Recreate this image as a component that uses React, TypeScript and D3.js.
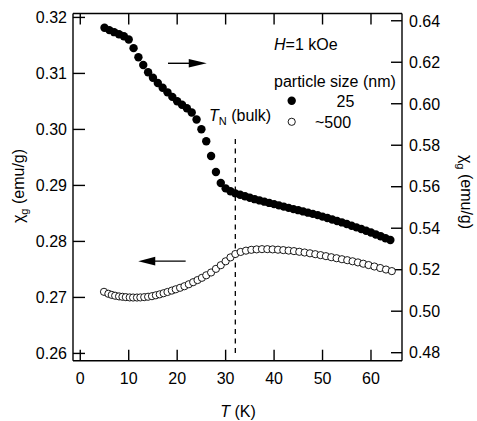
import React from "react";
import * as d3 from "d3";

// ---- Data ----
const T_FILLED = [5, 6, 7, 8, 9, 10, 11, 12, 13, 14, 15, 16, 17, 18, 19, 20, 21, 22, 23, 24, 25, 26, 27, 28, 29, 30, 31, 32, 33, 34, 35, 36, 37, 38, 39, 40, 41, 42, 43, 44, 45, 46, 47, 48, 49, 50, 51, 52, 53, 54, 55, 56, 57, 58, 59, 60, 61, 62, 63, 64];
const CHI_FILLED = [0.6366, 0.6355, 0.6345, 0.6335, 0.6325, 0.631, 0.6268, 0.6224, 0.6187, 0.6152, 0.6125, 0.61, 0.6077, 0.6055, 0.6033, 0.6012, 0.5995, 0.5978, 0.5958, 0.5924, 0.5877, 0.5819, 0.5748, 0.5671, 0.5618, 0.5592, 0.5578, 0.5568, 0.5561, 0.5554, 0.5547, 0.554, 0.5534, 0.5528, 0.5522, 0.5516, 0.551, 0.5504, 0.5498, 0.5492, 0.5487, 0.5481, 0.5475, 0.5469, 0.5463, 0.5456, 0.5449, 0.5442, 0.5435, 0.5428, 0.542, 0.5412, 0.5404, 0.5396, 0.5388, 0.5379, 0.537, 0.5361, 0.5352, 0.5343];

const T_OPEN = [4.9, 5.8, 6.5, 7.2, 8.0, 8.7, 9.4, 10.2, 10.9, 11.7, 12.4, 13.2, 14.0, 14.8, 15.6, 16.4, 17.2, 18.0, 18.9, 19.7, 20.6, 21.5, 22.4, 23.3, 24.2, 25.1, 26.0, 27.0, 28.0, 29.0, 30.0, 31.0, 32.0, 33.1, 34.2, 35.3, 36.4, 37.5, 38.6, 39.7, 40.8, 41.9, 43.0, 44.1, 45.2, 46.3, 47.4, 48.5, 49.6, 50.7, 51.8, 52.9, 54.0, 55.1, 56.2, 57.3, 58.4, 59.5, 60.7, 61.9, 63.1, 64.3];
const CHI_OPEN = [0.271, 0.27065, 0.27045, 0.2703, 0.27018, 0.27011, 0.27005, 0.27, 0.26998, 0.26998, 0.27, 0.27005, 0.27012, 0.27022, 0.27038, 0.27055, 0.27075, 0.27097, 0.27122, 0.27145, 0.27172, 0.272, 0.27235, 0.27272, 0.2731, 0.2735, 0.27395, 0.27445, 0.2751, 0.27575, 0.27645, 0.27715, 0.27775, 0.27812, 0.27835, 0.2785, 0.27858, 0.27862, 0.27862, 0.27858, 0.27852, 0.27845, 0.27836, 0.27827, 0.27815, 0.27802, 0.27788, 0.27772, 0.27755, 0.27737, 0.27718, 0.277, 0.27682, 0.27665, 0.27645, 0.27625, 0.27602, 0.27578, 0.27552, 0.27525, 0.27498, 0.2747];

const X_TICKS = [0, 10, 20, 30, 40, 50, 60];
const LEFT_TICKS = [0.26, 0.27, 0.28, 0.29, 0.3, 0.31, 0.32];
const RIGHT_TICKS = [0.48, 0.5, 0.52, 0.54, 0.56, 0.58, 0.6, 0.62, 0.64];
const T_NEEL = 32;

// ---- Layout ----
const W = 477, H = 421;
const L = 73, R = 402, TOP = 13.5, BOT = 360.7;
const FONT = "'Liberation Sans', Arial, Helvetica, sans-serif";
const FS = 16;
const TICK = 11;

export default function App() {
  const x = d3.scaleLinear().domain([-1.5, 66.4]).range([L, R]);
  const yL = d3.scaleLinear().domain([0.2587, 0.3207]).range([BOT, TOP]);
  const yR = d3.scaleLinear().domain([0.47614, 0.6435]).range([BOT, TOP]);
  const fmtL = d3.format(".2f");

  const rArrowY = yR(0.6195);
  const lArrowY = yL(0.27648);
  const rx0 = x(18.1), rx1 = x(26.1);
  const lx0 = x(11.97), lx1 = x(21.75);

  return (
    <svg width={W} height={H} style={{ position: "absolute", left: 0, top: 0, background: "#fff" }} fontFamily={FONT}>
      <rect x={0} y={0} width={W} height={H} fill="#fff" />
      {/* frame */}
      <g stroke="#000" strokeWidth={1.4} fill="none">
        <line x1={L} x2={R} y1={TOP} y2={TOP} />
        <line x1={L} x2={R} y1={BOT} y2={BOT} />
        <line x1={L} x2={L} y1={TOP} y2={BOT} />
        <line x1={R} x2={R} y1={TOP} y2={BOT} />
        {X_TICKS.map((t) => (
          <g key={"xt" + t}>
            <line x1={x(t)} x2={x(t)} y1={BOT} y2={BOT - TICK} />
            <line x1={x(t)} x2={x(t)} y1={TOP} y2={TOP + TICK} />
          </g>
        ))}
        {LEFT_TICKS.map((v) => (
          <line key={"lt" + v} x1={L} x2={L + 12} y1={yL(v)} y2={yL(v)} />
        ))}
        {RIGHT_TICKS.map((v) => (
          <line key={"rt" + v} x1={R} x2={R - TICK} y1={yR(v)} y2={yR(v)} />
        ))}
      </g>
      {/* tick labels */}
      <g fontSize={FS} fill="#000">
        {X_TICKS.map((t) => (
          <text key={"xl" + t} x={x(t)} y={383.5} textAnchor="middle">{t}</text>
        ))}
        {LEFT_TICKS.map((v) => (
          <text key={"ll" + v} x={67} y={yL(v)} dy="0.36em" textAnchor="end">{fmtL(v)}</text>
        ))}
        {RIGHT_TICKS.map((v) => (
          <text key={"rl" + v} x={409} y={yR(v)} dy="0.36em" textAnchor="start">{fmtL(v)}</text>
        ))}
      </g>
      {/* axis titles */}
      <text x={238} y={417} fontSize={FS} textAnchor="middle">
        <tspan fontStyle="italic">T</tspan> (K)
      </text>
      <text transform="translate(24,186) rotate(-90)" fontSize={FS} textAnchor="middle">
        χ<tspan fontSize={11} dy={4}>g</tspan><tspan dy={-4}> (emu/g)</tspan>
      </text>
      <text transform="translate(461,192) rotate(90)" fontSize={FS} textAnchor="middle">
        χ<tspan fontSize={11} dy={4}>g</tspan><tspan dy={-4}> (emu/g)</tspan>
      </text>
      {/* dashed T_N line */}
      <line x1={x(T_NEEL)} x2={x(T_NEEL)} y1={yL(0.2983)} y2={yL(0.2597)} stroke="#000" strokeWidth={1.3} strokeDasharray="5,4.5" />
      <text x={209} y={120.7} fontSize={FS}>
        <tspan fontStyle="italic">T</tspan><tspan fontSize={11} dy={4}>N</tspan><tspan dy={-4}> (bulk)</tspan>
      </text>
      {/* arrows */}
      <line x1={rx0} x2={rx1 - 10} y1={rArrowY} y2={rArrowY} stroke="#000" strokeWidth={1.4} />
      <path d={`M${rx1},${rArrowY} L${rx1 - 18},${rArrowY - 4.3} L${rx1 - 18},${rArrowY + 4.3} Z`} fill="#000" />
      <line x1={lx0 + 10} x2={lx1} y1={lArrowY} y2={lArrowY} stroke="#000" strokeWidth={1.4} />
      <path d={`M${lx0},${lArrowY} L${lx0 + 17},${lArrowY - 4.3} L${lx0 + 17},${lArrowY + 4.3} Z`} fill="#000" />
      {/* annotations / legend */}
      <text x={274} y={50} fontSize={FS}>
        <tspan fontStyle="italic">H</tspan>=1 kOe
      </text>
      <text x={274} y={87.3} fontSize={FS}>particle size (nm)</text>
      <circle cx={291.7} cy={100.7} r={4.2} fill="#000" />
      <text x={345.5} y={106.7} fontSize={FS} textAnchor="middle">25</text>
      <circle cx={291.7} cy={121.8} r={3.6} fill="#fff" stroke="#000" strokeWidth={0.9} />
      <text x={315} y={127.7} fontSize={FS}>~500</text>
      {/* data */}
      <g>
        {T_OPEN.map((t, i) => (
          <circle key={"o" + i} cx={x(t)} cy={yL(CHI_OPEN[i])} r={3.6} fill="#fff" stroke="#000" strokeWidth={0.9} />
        ))}
      </g>
      <g>
        {T_FILLED.map((t, i) => (
          <circle key={"f" + i} cx={x(t)} cy={yR(CHI_FILLED[i])} r={4.2} fill="#000" />
        ))}
      </g>
    </svg>
  );
}
